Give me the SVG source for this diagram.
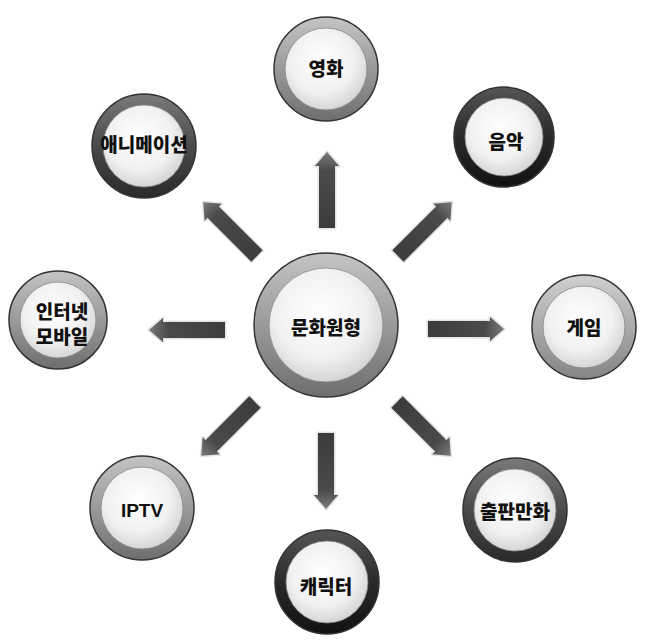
<svg xmlns="http://www.w3.org/2000/svg" width="646" height="642" viewBox="0 0 646 642">
<defs>
<style>
.lbl{font-family:"Noto Sans CJK KR","Liberation Sans",sans-serif;font-weight:900;font-size:19px;fill:#111;text-anchor:middle;dominant-baseline:central}
.edge{stroke:#333;stroke-width:1.5}
.inner{fill:url(#innerG);stroke:#888;stroke-width:0.8}
.arr{fill:url(#arrG);stroke:#e2e2e2;stroke-width:3;stroke-linejoin:round;paint-order:stroke}
</style>
<linearGradient id="ringMid" x1="0" y1="0" x2="0" y2="1">
<stop offset="0" stop-color="#c4c4c4"/><stop offset="0.5" stop-color="#9a9a9a"/><stop offset="1" stop-color="#6e6e6e"/>
</linearGradient>
<linearGradient id="ringLight" x1="0" y1="0" x2="0" y2="1">
<stop offset="0" stop-color="#d0d0d0"/><stop offset="0.5" stop-color="#aaaaaa"/><stop offset="1" stop-color="#858585"/>
</linearGradient>
<linearGradient id="ringDark" x1="0" y1="0" x2="0" y2="1">
<stop offset="0" stop-color="#7a7a7a"/><stop offset="0.5" stop-color="#4a4a4a"/><stop offset="1" stop-color="#2a2a2a"/>
</linearGradient>
<linearGradient id="ringBlack" x1="0" y1="0" x2="0" y2="1">
<stop offset="0" stop-color="#555"/><stop offset="0.5" stop-color="#2a2a2a"/><stop offset="1" stop-color="#111"/>
</linearGradient>
<radialGradient id="innerG" cx="0.45" cy="0.4" r="0.65">
<stop offset="0" stop-color="#ffffff"/><stop offset="0.6" stop-color="#f1f1f1"/><stop offset="1" stop-color="#cfcfcf"/>
</radialGradient>
<linearGradient id="arrG" gradientUnits="userSpaceOnUse" x1="0" y1="0" x2="76" y2="0">
<stop offset="0" stop-color="#3c3c3c"/><stop offset="0.75" stop-color="#4a4a4a"/><stop offset="1" stop-color="#7a7a7a"/>
</linearGradient>
<path id="arrow" d="M0,-8 L62,-8 L62,-12 L76,0 L62,12 L62,8 L0,8 Z"/>
</defs>
<rect width="646" height="642" fill="#fff"/>

<g id="connectors">
<use href="#arrow" class="arr" transform="translate(327,228) rotate(-90)"/>
<use href="#arrow" class="arr" transform="translate(257,256) rotate(-135)"/>
<use href="#arrow" class="arr" transform="translate(398,256) rotate(-45)"/>
<use href="#arrow" class="arr" transform="translate(225,330) rotate(180)"/>
<use href="#arrow" class="arr" transform="translate(428,329) rotate(0)"/>
<use href="#arrow" class="arr" transform="translate(255,402) rotate(135)"/>
<use href="#arrow" class="arr" transform="translate(326,433) rotate(90)"/>
<use href="#arrow" class="arr" transform="translate(397,402) rotate(45)"/>
</g>

<g id="center">
<circle cx="326" cy="325" r="72" fill="url(#ringMid)" class="edge"/>
<circle cx="326" cy="325" r="57" class="inner"/>
<text x="326" y="326" class="lbl">문화원형</text>
</g>

<g id="movie">
<circle cx="326" cy="69" r="52" fill="url(#ringMid)" class="edge"/>
<circle cx="326" cy="69" r="41" class="inner"/>
<text x="326" y="67" class="lbl">영화</text>
</g>

<g id="animation">
<circle cx="144" cy="146" r="52" fill="url(#ringDark)" class="edge"/>
<circle cx="144" cy="146" r="41" class="inner"/>
<text x="144" y="143" class="lbl">애니메이션</text>
</g>

<g id="music">
<circle cx="504" cy="137" r="50" fill="url(#ringBlack)" class="edge"/>
<circle cx="504" cy="137" r="39" class="inner"/>
<text x="506" y="140" class="lbl">음악</text>
</g>

<g id="internet">
<circle cx="58" cy="320" r="49" fill="url(#ringMid)" class="edge"/>
<circle cx="58" cy="320" r="38" class="inner"/>
<text x="62" y="310" class="lbl">인터넷</text>
<text x="62" y="335" class="lbl">모바일</text>
</g>

<g id="game">
<circle cx="584" cy="327" r="52" fill="url(#ringLight)" class="edge"/>
<circle cx="584" cy="327" r="41" class="inner"/>
<text x="584" y="326" class="lbl">게임</text>
</g>

<g id="iptv">
<circle cx="142" cy="508" r="52" fill="url(#ringMid)" class="edge"/>
<circle cx="142" cy="508" r="41" class="inner"/>
<text x="142" y="510" class="lbl" style="font-family:'Liberation Sans',sans-serif;font-weight:bold">IPTV</text>
</g>

<g id="publishing">
<circle cx="515" cy="510" r="52" fill="url(#ringDark)" class="edge"/>
<circle cx="515" cy="510" r="41" class="inner"/>
<text x="515" y="510" class="lbl">출판만화</text>
</g>

<g id="character">
<circle cx="327" cy="582" r="52" fill="url(#ringBlack)" class="edge"/>
<circle cx="327" cy="582" r="41" class="inner"/>
<text x="326" y="585" class="lbl">캐릭터</text>
</g>
</svg>
